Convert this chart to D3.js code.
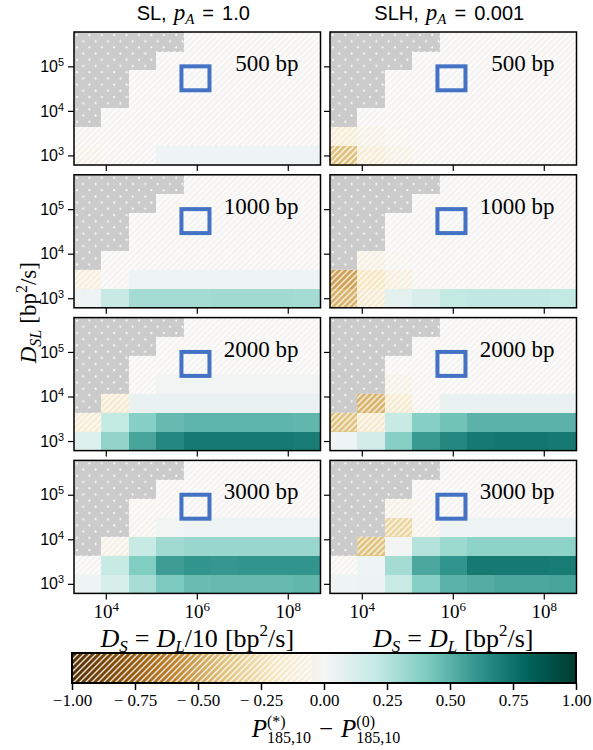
<!DOCTYPE html>
<html><head><meta charset="utf-8">
<script src="https://cdn.jsdelivr.net/npm/d3@7"></script>
<style>body{margin:0;background:#fff}text{white-space:pre}</style>
</head><body>
<svg id="chart" width="593" height="750"></svg>
<script>
// ---------- data ----------
const xValues = [4e3, 1.6e4, 6.4e4, 2.56e5, 1.02e6, 4.1e6, 1.64e7, 6.55e7, 2.62e8]; // D_S cell centres
const yValues = [1e3, 2.7e3, 7.1e3, 1.9e4, 5.1e4, 1.35e5, 3.6e5];                  // D_SL cell centres
const xDomain = [2e3, 5.24e8];
const yDomain = [6.1e2, 5.9e5];
const xTicks = [1e4, 1e6, 1e8];
const yTicks = [1e3, 1e4, 1e5];
const lengths = ["500 bp", "1000 bp", "2000 bp", "3000 bp"];
const models = ["SL", "SLH"];
const pAValues = ["1.0", "0.001"];
const xLabelRhs = ["D_L/10", "D_L"];
const cbTicks = [-1, -0.75, -0.5, -0.25, 0, 0.25, 0.5, 0.75, 1];
const cbTickLabels = ["\u22121.00", "\u2212 0.75", "\u2212 0.50", "\u2212 0.25", "0.00", "0.25", "0.50", "0.75", "1.00"];
const boxX = [4.6e5, 1.9e6];   // highlighted region
const boxY = [2.9e4, 1.0e5];

// rows listed from lowest D_SL (1e3) to highest; null = no data (grey)
const sl500 = [
  [-0.05, -0.01, -0.01, 0.03, 0.03, 0.03, 0.03, 0.03, 0.03],
  [-0.02, -0.01, -0.01, -0.01, -0.01, -0.01, -0.01, -0.01, -0.01],
  [null, -0.01, -0.01, -0.01, -0.01, -0.01, -0.01, -0.01, -0.01],
  [null, null, -0.01, -0.01, -0.01, -0.01, -0.01, -0.01, -0.01],
  [null, null, -0.01, -0.01, -0.01, -0.01, -0.01, -0.01, -0.01],
  [null, null, null, -0.01, -0.01, -0.01, -0.01, -0.01, -0.01],
  [null, null, null, null, -0.01, -0.01, -0.01, -0.01, -0.01]
];
const slh500 = [
  [-0.4, -0.12, -0.06, -0.02, -0.01, -0.01, -0.01, -0.01, -0.01],
  [-0.12, -0.06, -0.03, -0.01, -0.01, -0.01, -0.01, -0.01, -0.01],
  [null, -0.01, -0.01, -0.01, -0.01, -0.01, -0.01, -0.01, -0.01],
  [null, null, -0.01, -0.01, -0.01, -0.01, -0.01, -0.01, -0.01],
  [null, null, -0.01, -0.01, -0.01, -0.01, -0.01, -0.01, -0.01],
  [null, null, null, -0.01, -0.01, -0.01, -0.01, -0.01, -0.01],
  [null, null, null, null, -0.01, -0.01, -0.01, -0.01, -0.01]
];
const sl1000 = [
  [0.03, 0.2, 0.3, 0.3, 0.3, 0.31, 0.31, 0.31, 0.3],
  [-0.1, -0.01, 0.03, 0.03, 0.03, 0.03, 0.03, 0.03, 0.03],
  [null, -0.01, -0.01, -0.01, -0.01, -0.01, -0.01, -0.01, -0.01],
  [null, null, -0.01, -0.01, -0.01, -0.01, -0.01, -0.01, -0.01],
  [null, null, -0.01, -0.01, -0.01, -0.01, -0.01, -0.01, -0.01],
  [null, null, null, -0.01, -0.01, -0.01, -0.01, -0.01, -0.01],
  [null, null, null, null, -0.01, -0.01, -0.01, -0.01, -0.01]
];
const slh1000 = [
  [-0.45, -0.15, 0.07, 0.13, 0.21, 0.22, 0.22, 0.22, 0.21],
  [-0.5, -0.2, -0.1, -0.01, -0.01, -0.01, -0.01, -0.01, -0.01],
  [null, -0.08, -0.03, -0.01, -0.01, -0.01, -0.01, -0.01, -0.01],
  [null, null, -0.01, -0.01, -0.01, -0.01, -0.01, -0.01, -0.01],
  [null, null, -0.01, -0.01, -0.01, -0.01, -0.01, -0.01, -0.01],
  [null, null, null, -0.01, -0.01, -0.01, -0.01, -0.01, -0.01],
  [null, null, null, null, -0.01, -0.01, -0.01, -0.01, -0.01]
];
const sl2000 = [
  [0.1, 0.35, 0.55, 0.66, 0.72, 0.72, 0.72, 0.72, 0.71],
  [-0.12, 0.21, 0.38, 0.47, 0.49, 0.49, 0.49, 0.49, 0.48],
  [null, -0.15, 0.05, 0.05, 0.05, 0.05, 0.05, 0.05, 0.05],
  [null, null, -0.01, 0.02, 0.02, 0.02, 0.02, 0.02, 0.02],
  [null, null, -0.01, -0.01, -0.01, -0.01, -0.01, -0.01, -0.01],
  [null, null, null, -0.01, -0.01, -0.01, -0.01, -0.01, -0.01],
  [null, null, null, null, -0.01, -0.01, -0.01, -0.01, -0.01]
];
const slh2000 = [
  [0.03, 0.14, 0.38, 0.59, 0.66, 0.72, 0.73, 0.73, 0.72],
  [-0.4, -0.15, 0.2, 0.38, 0.44, 0.5, 0.5, 0.5, 0.5],
  [null, -0.45, -0.15, -0.03, 0.05, 0.05, 0.05, 0.05, 0.05],
  [null, null, -0.06, -0.01, -0.01, -0.01, -0.01, -0.01, -0.01],
  [null, null, -0.01, -0.01, -0.01, -0.01, -0.01, -0.01, -0.01],
  [null, null, null, -0.01, -0.01, -0.01, -0.01, -0.01, -0.01],
  [null, null, null, null, -0.01, -0.01, -0.01, -0.01, -0.01]
];
const sl3000 = [
  [0.03, 0.13, 0.29, 0.41, 0.46, 0.47, 0.47, 0.47, 0.48],
  [-0.01, 0.2, 0.4, 0.58, 0.61, 0.6, 0.61, 0.61, 0.61],
  [null, -0.06, 0.2, 0.31, 0.33, 0.33, 0.33, 0.33, 0.33],
  [null, null, -0.03, 0.02, 0.03, 0.03, 0.03, 0.03, 0.03],
  [null, null, -0.02, -0.01, -0.01, -0.01, -0.01, -0.01, -0.01],
  [null, null, null, -0.01, -0.01, -0.01, -0.01, -0.01, -0.01],
  [null, null, null, null, -0.01, -0.01, -0.01, -0.01, -0.01]
];
const slh3000 = [
  [0.03, 0.04, 0.19, 0.38, 0.5, 0.52, 0.54, 0.54, 0.55],
  [-0.02, 0.03, 0.3, 0.54, 0.61, 0.72, 0.72, 0.72, 0.71],
  [null, -0.4, 0.01, 0.25, 0.32, 0.36, 0.36, 0.36, 0.36],
  [null, null, -0.3, -0.04, 0.03, 0.03, 0.03, 0.03, 0.03],
  [null, null, -0.06, -0.03, -0.01, -0.01, -0.01, -0.01, -0.01],
  [null, null, null, -0.01, -0.01, -0.01, -0.01, -0.01, -0.01],
  [null, null, null, null, -0.01, -0.01, -0.01, -0.01, -0.01]
];
const grids = [[sl500, slh500], [sl1000, slh1000], [sl2000, slh2000], [sl3000, slh3000]];

// ---------- styling / layout ----------
const brbg = ["#543005","#8c510a","#bf812d","#dfc27d","#f6e8c3","#f5f5f5","#c7eae5","#80cdc1","#35978f","#01665e","#003c30"];
const color = d3.scaleLinear().domain(d3.range(11).map(i => -1 + i * 0.2)).range(brbg);
const SERIF = "'Liberation Serif','DejaVu Serif',serif";
const SANS = "'Liberation Sans','DejaVu Sans',sans-serif";
const panelX = [74, 330], panelW = 246.5, panelH = 133, panelTop0 = 32, panelStep = 142.8;

const svg = d3.select("#chart");
const defs = svg.append("defs");
const hatch = defs.append("pattern").attr("id", "hatch").attr("patternUnits", "userSpaceOnUse")
  .attr("width", 6).attr("height", 6);
hatch.append("path").attr("d", "M-1,1 L1,-1 M0,6 L6,0 M5,7 L7,5")
  .attr("stroke", "#fff").attr("stroke-width", 1.4).attr("stroke-opacity", 0.85);
const dots = defs.append("pattern").attr("id", "dots").attr("patternUnits", "userSpaceOnUse")
  .attr("width", 12.4).attr("height", 12.4);
dots.append("circle").attr("cx", 3).attr("cy", 3).attr("r", 1).attr("fill", "#fff");
dots.append("circle").attr("cx", 9.2).attr("cy", 9.2).attr("r", 1).attr("fill", "#fff");
const grad = defs.append("linearGradient").attr("id", "cbgrad");
brbg.forEach((c, i) => grad.append("stop").attr("offset", (i / 10 * 100) + "%").attr("stop-color", c));

const x = d3.scaleLog().domain(xDomain).range([0, panelW]);
const y = d3.scaleLog().domain(yDomain).range([panelH, 0]);
function edges(vals, dom) {
  const e = [dom[0]];
  for (let i = 0; i < vals.length - 1; i++) e.push(Math.sqrt(vals[i] * vals[i + 1]));
  e.push(dom[1]);
  return e;
}
const xe = edges(xValues, xDomain), ye = edges(yValues, yDomain);

// rich text helper: parts = {t, size, italic, family, dy} or {stack:[parts]} or {gap}
function rich(parent, parts) {
  const g = parent.append("g");
  let cx = 0;
  const put = (p, at) => {
    const t = g.append("text").attr("x", at).attr("y", p.dy || 0)
      .attr("font-family", p.family || SERIF).attr("font-size", p.size || 20)
      .attr("font-style", p.italic ? "italic" : "normal").attr("fill", "#000").text(p.t);
    return t.node().getComputedTextLength();
  };
  parts.forEach(p => {
    if (p.gap) { cx += p.gap; return; }
    if (p.stack) { cx += d3.max(p.stack.map(q => put(q, cx))); return; }
    cx += put(p, cx);
  });
  return { g, w: cx };
}

// ---------- panels ----------
grids.forEach((row, ri) => {
  row.forEach((grid, ci) => {
    const g = svg.append("g").attr("transform", `translate(${panelX[ci]},${panelTop0 + ri * panelStep})`);
    const cells = [];
    grid.forEach((vals, r) => vals.forEach((v, c) => cells.push({ r, c, v })));
    const cg = g.append("g").attr("shape-rendering", "crispEdges");
    const geom = d => ({ x0: x(xe[d.c]), x1: x(xe[d.c + 1]), y0: y(ye[d.r + 1]), y1: y(ye[d.r]) });
    cg.selectAll("rect.cell").data(cells).join("rect").attr("class", "cell")
      .attr("x", d => geom(d).x0).attr("y", d => geom(d).y0)
      .attr("width", d => geom(d).x1 - geom(d).x0 + 0.5).attr("height", d => geom(d).y1 - geom(d).y0 + 0.5)
      .attr("fill", d => d.v === null ? "#cbcbcb" : color(d.v));
    g.append("g").selectAll("rect").data(cells.filter(d => d.v === null || d.v < 0)).join("rect")
      .attr("x", d => geom(d).x0).attr("y", d => geom(d).y0)
      .attr("width", d => geom(d).x1 - geom(d).x0).attr("height", d => geom(d).y1 - geom(d).y0)
      .attr("fill", d => d.v === null ? "url(#dots)" : "url(#hatch)");
    // highlight box
    g.append("rect").attr("x", x(boxX[0])).attr("y", y(boxY[1]))
      .attr("width", x(boxX[1]) - x(boxX[0])).attr("height", y(boxY[0]) - y(boxY[1]))
      .attr("fill", "none").attr("stroke", "#4472c4").attr("stroke-width", 4);
    g.append("text").attr("x", panelW - 22).attr("y", 39).attr("text-anchor", "end")
      .attr("font-family", SERIF).attr("font-size", 23).text(lengths[ri]);
    g.append("rect").attr("width", panelW).attr("height", panelH).attr("fill", "none")
      .attr("stroke", "#000").attr("stroke-width", 1.5);
    // axes
    const ay = g.append("g").call(d3.axisLeft(y).tickValues(yTicks).tickSize(6).tickPadding(4)
      .tickFormat(ci === 0 ? (d => d) : () => ""));
    const ax = g.append("g").attr("transform", `translate(0,${panelH})`)
      .call(d3.axisBottom(x).tickValues(xTicks).tickSize(6).tickPadding(5)
      .tickFormat(ri === 3 ? (d => d) : () => ""));
    [ay, ax].forEach(a => {
      a.select(".domain").remove();
      a.selectAll(".tick line").attr("stroke", "#000").attr("stroke-width", 1.2);
    });
    ay.selectAll(".tick text").attr("font-family", SANS).attr("font-size", 16).attr("fill", "#000");
    ax.selectAll(".tick text").attr("font-family", SERIF).attr("font-size", 19).attr("fill", "#000");
    [ay, ax].forEach(a => a.selectAll(".tick text").each(function (d) {
      const t = d3.select(this);
      if (t.text() === "") return;
      t.text("");
      t.append("tspan").text("10");
      t.append("tspan").attr("dy", "-0.55em").attr("font-size", "0.68em").text(Math.round(Math.log10(d)));
    }));
  });
});

// ---------- column titles ----------
models.forEach((m, ci) => {
  const r = rich(svg, [
    { t: m + ",", family: SANS, size: 20 }, { gap: 7 },
    { t: "p", italic: true, size: 23 }, { t: "A", italic: true, size: 15, dy: 4 }, { gap: 8 },
    { t: "=", family: SANS, size: 20 }, { gap: 8 },
    { t: pAValues[ci], family: SANS, size: 20 }
  ]);
  r.g.attr("transform", `translate(${panelX[ci] + panelW / 2 - r.w / 2 - 4},20)`);
});

// ---------- y label ----------
{
  const r = rich(svg, [
    { t: "D", italic: true, size: 23 }, { t: "SL", italic: true, size: 16, dy: 5 }, { gap: 6 },
    { t: "[bp", size: 23 }, { t: "2", size: 16, dy: -9 }, { t: "/s]", size: 23 }
  ]);
  const cy = panelTop0 + (3 * panelStep + panelH) / 2;
  r.g.attr("transform", `translate(36,${cy + r.w / 2}) rotate(-90)`);
}

// ---------- x labels ----------
xLabelRhs.forEach((rhs, ci) => {
  const parts = [
    { t: "D", italic: true, size: 26 }, { t: "S", italic: true, size: 17, dy: 5 }, { gap: 7 },
    { t: "=", size: 26 }, { gap: 7 },
    { t: "D", italic: true, size: 26 }, { t: "L", italic: true, size: 17, dy: 5 }
  ];
  if (rhs.endsWith("/10")) parts.push({ t: "/10", size: 26 });
  parts.push({ gap: 7 }, { t: "[bp", size: 26 }, { t: "2", size: 17, dy: -11 }, { t: "/s]", size: 26 });
  const r = rich(svg, parts);
  r.g.attr("transform", `translate(${panelX[ci] + panelW / 2 - r.w / 2},647)`);
});

// ---------- colorbar ----------
const cbX = 72, cbW = 504, cbY = 653, cbH = 30;
const cx = d3.scaleLinear().domain([-1, 1]).range([cbX, cbX + cbW]);
svg.append("rect").attr("x", cbX).attr("y", cbY).attr("width", cbW).attr("height", cbH).attr("fill", "url(#cbgrad)");
svg.append("rect").attr("x", cx(-1)).attr("y", cbY).attr("width", cx(-0.05) - cx(-1)).attr("height", cbH).attr("fill", "url(#hatch)");
svg.append("rect").attr("x", cbX).attr("y", cbY).attr("width", cbW).attr("height", cbH)
  .attr("fill", "none").attr("stroke", "#000").attr("stroke-width", 2);
const cba = svg.append("g").attr("transform", `translate(0,${cbY + cbH})`)
  .call(d3.axisBottom(cx).tickValues(cbTicks).tickSize(7).tickPadding(4).tickFormat((d, i) => cbTickLabels[i]));
cba.select(".domain").remove();
cba.selectAll(".tick line").attr("stroke", "#000").attr("stroke-width", 1.5);
cba.selectAll(".tick text").attr("font-family", SERIF).attr("font-size", 17).attr("fill", "#000");
{
  const r = rich(svg, [
    { t: "P", italic: true, size: 25 },
    { stack: [{ t: "(*)", size: 16, dy: -10 }, { t: "185,10", size: 16, dy: 6 }] }, { gap: 8 },
    { t: "\u2212", size: 25 }, { gap: 8 },
    { t: "P", italic: true, size: 25 },
    { stack: [{ t: "(0)", size: 16, dy: -10 }, { t: "185,10", size: 16, dy: 6 }] }
  ]);
  r.g.attr("transform", `translate(${cbX + cbW / 2 - r.w / 2 + 2},737)`);
}
</script>
</body></html>
